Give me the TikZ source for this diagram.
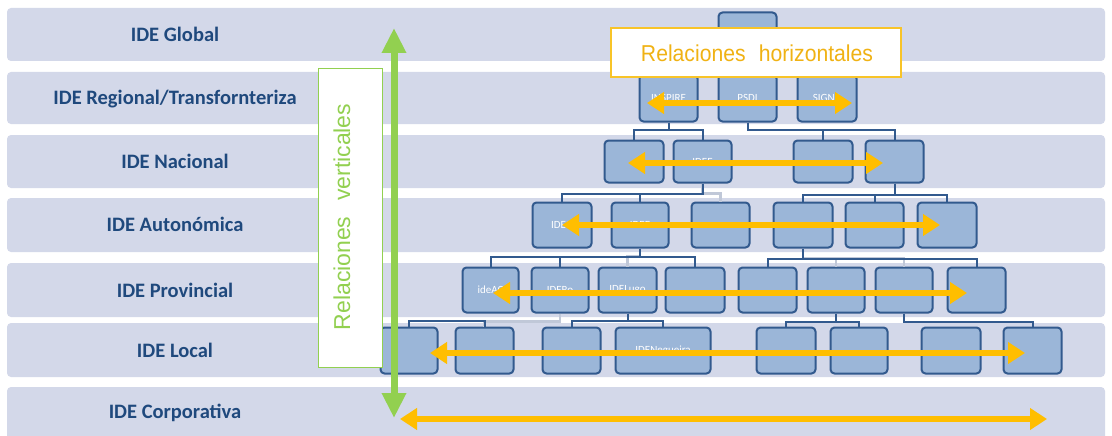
\documentclass[tikz,border=0pt]{standalone}
\usepackage{fontspec}
\setmainfont{Carlito}
\newfontfamily\arialf{Liberation Sans}
\usetikzlibrary{arrows.meta}
\definecolor{band}{RGB}{211,216,233}
\definecolor{bfill}{RGB}{155,182,216}
\definecolor{bdraw}{RGB}{50,90,142}
\definecolor{lbl}{RGB}{31,73,125}
\definecolor{orng}{RGB}{255,190,0}
\definecolor{oedge}{RGB}{248,196,40}
\definecolor{otext}{RGB}{240,178,20}
\definecolor{grn}{RGB}{146,208,80}
\definecolor{gcol}{RGB}{192,200,216}
\newcommand\ibx[6]{\node[ibox, minimum width=#4, minimum height=#5] (#1) at (#2,#3) {#6};}
\newcommand\conn[4][con]{\draw[#1] (#2.south) -- ++(0,#3) -| (#4.north);}
\begin{document}
\begin{tikzpicture}[x=1pt,y=-1pt,
  bandbox/.style={fill=band, rounded corners=4, minimum width=1098, inner sep=0},
  bandlbl/.style={text=lbl, anchor=base, inner sep=0, font=\fontsize{20.5}{24}\selectfont\bfseries},
  ibox/.style={draw=bdraw, line width=2, fill=bfill, rounded corners=4, inner sep=0, text=white, font=\fontsize{11}{12}\selectfont},
  con/.style={draw=bdraw, line width=2},
  gcon/.style={draw=gcol, line width=2.5},
  harr/.style={draw=orng, line width=6, {Triangle[length=17pt,width=21pt]}-{Triangle[length=17pt,width=21pt]}},
  varr/.style={draw=grn, line width=7, {Triangle[length=25pt,width=23pt]}-{Triangle[length=25pt,width=23pt]}}]
\clip (0,0) rectangle (1112,436);
\fill[white] (0,0) rectangle (1112,436);
% bands
\node[bandbox, minimum height=53] (b1) at (556,34.5) {};
\node[bandbox, minimum height=52] (b2) at (556,98) {};
\node[bandbox, minimum height=53] (b3) at (556,161.5) {};
\node[bandbox, minimum height=54] (b4) at (556,225) {};
\node[bandbox, minimum height=54] (b5) at (556,290) {};
\node[bandbox, minimum height=54] (b6) at (556,350) {};
\node[bandbox, minimum height=60] (b7) at (556,417) {};
\node[bandlbl] (t1) at (175,41.5) {IDE Global};
\node[bandlbl] (t2) at (175,105) {IDE Regional/Transfornteriza};
\node[bandlbl] (t3) at (175,168.5) {IDE Nacional};
\node[bandlbl] (t4) at (175,231.5) {IDE Autonómica};
\node[bandlbl] (t5) at (175,297) {IDE Provincial};
\node[bandlbl] (t6) at (175,357) {IDE Local};
\node[bandlbl] (t7) at (175,418) {IDE Corporativa};
% boxes
\ibx{g}{747.5}{37}{58}{49}{}
\ibx{ins}{668.5}{98}{58}{47}{INSPIRE}
\ibx{psdi}{747.5}{98}{58}{47}{PSDI}
\ibx{sig}{827}{98}{59}{47}{SIGNA}
\ibx{n1}{634}{161.5}{59}{42}{}
\ibx{n2}{702.5}{161.5}{58}{42}{IDEE}
\ibx{n3}{823}{161.5}{59}{42}{}
\ibx{n4}{894.5}{161.5}{58}{42}{}
\ibx{a1}{562}{225}{59}{45}{IDEG}
\ibx{a2}{640}{225}{57}{45}{IDEE}
\ibx{a3}{720.5}{225}{58}{45}{}
\ibx{a4}{803}{225}{59}{45}{}
\ibx{a5}{874.5}{225}{58}{45}{}
\ibx{a6}{947}{225}{59}{45}{}
\ibx{p1}{490.5}{290}{56}{45}{ideAC}
\ibx{p2}{560}{290}{57}{45}{IDERo}
\ibx{p3}{627.5}{290}{58}{45}{IDELugo}
\ibx{p4}{695}{290}{59}{45}{}
\ibx{p5}{767.5}{290}{58}{45}{}
\ibx{p6}{836}{290}{57}{45}{}
\ibx{p7}{904}{290}{57}{45}{}
\ibx{p8}{976.5}{290}{58}{45}{}
\ibx{l1}{409}{350.5}{57}{46}{}
\ibx{l2}{484.5}{350.5}{58}{46}{}
\ibx{l3}{571.5}{350.5}{58}{46}{}
\ibx{l4}{663}{350.5}{95}{46}{IDENegueira}
\ibx{l5}{786}{350.5}{59}{46}{}
\ibx{l6}{859}{350.5}{57}{46}{}
\ibx{l7}{951}{350.5}{59}{46}{}
\ibx{l8}{1032.5}{350.5}{58}{46}{}
% connectors
\conn[gcon]{n2}{10}{a3}
\conn[gcon]{a2}{8}{p3}
\conn[gcon]{a4}{10}{p6}
\conn[gcon]{a4}{10}{p7}
\conn[gcon]{p2}{8}{l2}
\conn{ins}{7}{n1}
\conn{ins}{7}{n2}
\conn{psdi}{7}{n3}
\conn{psdi}{7}{n4}
\conn{n2}{10}{a1}
\conn{n2}{10}{a2}
\conn{n4}{11}{a4}
\conn{n4}{11}{a5}
\conn{n4}{11}{a6}
\conn{a2}{8}{p1}
\conn{a2}{8}{p2}
\conn{a2}{8}{p4}
\conn{a4}{10}{p5}
\conn{a4}{10}{p8}
\draw[con] (l2.north) -- ++(0,-6) -| (l1.north);
\conn{p3}{7}{l3}
\conn{p3}{7}{l4}
\conn{p6}{8}{l5}
\conn{p6}{8}{l6}
\conn{p7}{8}{l8}
% vertical relation box
\node[draw=grn, line width=1.6, fill=white, minimum width=64, minimum height=299, inner sep=0] (vbox) at (350.5,218) {};
\node[rotate=90, text=grn, inner sep=0, font=\arialf\fontsize{23}{26}\selectfont] (vtxt) at (342,217) {Relaciones\hspace{0.4em} verticales};
% horizontal relation box
\node[draw=oedge, line width=2, fill=white, minimum width=290, minimum height=49, inner sep=0] (hbox) at (756,52.5) {};
\node[text=otext, inner sep=0, font=\arialf\fontsize{23}{26}\selectfont] (htxt) at (757,53) {\scalebox{0.92}[1]{Relaciones\hspace{0.35em} horizontales}};
% horizontal arrows
\coordinate (h2l) at (647,103); \coordinate (h2r) at (852,103);
\coordinate (h3l) at (628,163); \coordinate (h3r) at (883,163);
\coordinate (h4l) at (562,225); \coordinate (h4r) at (940,225);
\coordinate (h5l) at (493,293); \coordinate (h5r) at (967,293);
\coordinate (h6l) at (430,353); \coordinate (h6r) at (1025,353);
\coordinate (h7l) at (400,419); \coordinate (h7r) at (1047,419);
\draw[harr] (h2l) -- (h2r);
\draw[harr] (h3l) -- (h3r);
\draw[harr] (h4l) -- (h4r);
\draw[harr] (h5l) -- (h5r);
\draw[harr] (h6l) -- (h6r);
\draw[harr] (h7l) -- (h7r);
% vertical arrow
\coordinate (vt) at (394,28); \coordinate (vb) at (394,418);
\draw[varr] (vt) -- (vb);
\end{tikzpicture}
\end{document}
